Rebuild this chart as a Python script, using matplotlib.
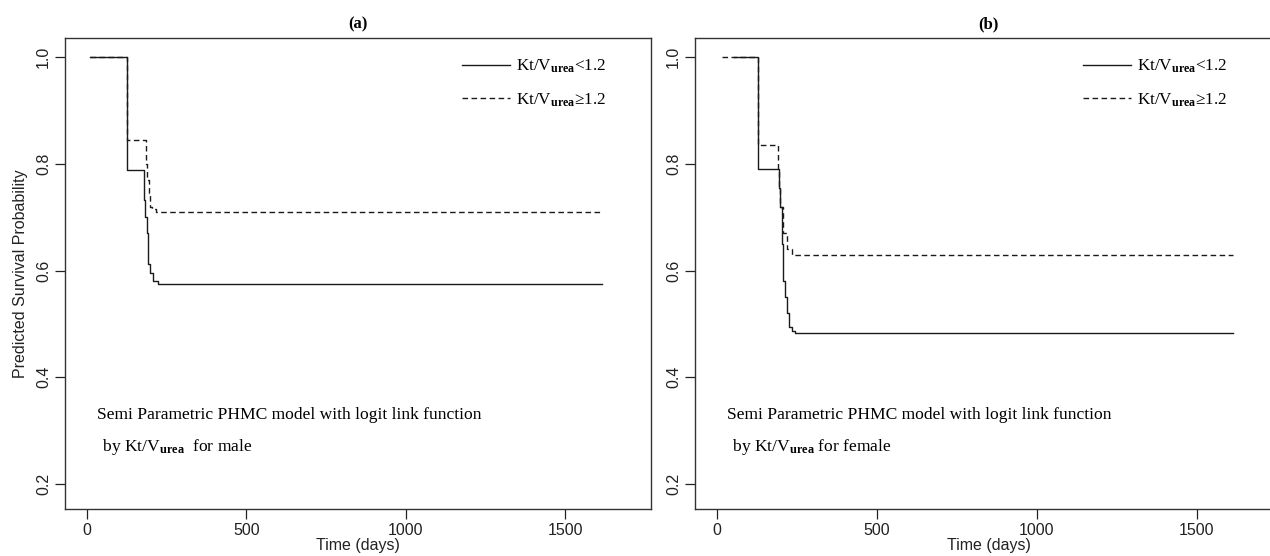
import matplotlib
matplotlib.use("Agg")
import matplotlib.pyplot as plt

# ---- data (time in days, survival probability) ----
male_lo_t = [10, 125, 179, 181, 184, 188, 193, 198, 208, 223, 1613]
male_lo_s = [1.0, 0.788, 0.757, 0.732, 0.70, 0.67, 0.613, 0.596, 0.58, 0.575, 0.575]
male_hi_t = [10, 125, 187, 190, 194, 197, 205, 218, 1613]
male_hi_s = [1.0, 0.845, 0.80, 0.77, 0.745, 0.72, 0.715, 0.71, 0.71]

female_lo_t = [53, 128, 193, 197, 203, 208, 212, 218, 225, 234, 245, 1613]
female_lo_s = [1.0, 0.79, 0.755, 0.72, 0.65, 0.58, 0.55, 0.52, 0.495, 0.486, 0.483, 0.483]
female_hi_t = [16, 128, 191, 196, 199, 208, 218, 234, 1613]
female_hi_s = [1.0, 0.836, 0.79, 0.755, 0.72, 0.67, 0.64, 0.63, 0.63]

panel_titles = ["(a)", "(b)"]
note_lines = [
    ["Semi Parametric PHMC model with logit link function",
     r" by Kt/V$_{\mathbf{urea}}$  for male"],
    ["Semi Parametric PHMC model with logit link function",
     r" by Kt/V$_{\mathbf{urea}}$ for female"],
]
legend_labels = [r"Kt/V$_{\mathbf{urea}}$<1.2", r"Kt/V$_{\mathbf{urea}}$≥1.2"]

plt.rcParams["font.family"] = ["Liberation Sans", "DejaVu Sans"]
plt.rcParams["mathtext.fontset"] = "custom"
plt.rcParams["mathtext.rm"] = "Liberation Serif"
plt.rcParams["mathtext.bf"] = "Liberation Serif:bold"
plt.rcParams["mathtext.it"] = "Liberation Serif:italic"

fig = plt.figure(figsize=(12.7, 5.56), dpi=100)
ax1 = fig.add_axes([65 / 1270, 1 - 509 / 556, 586 / 1270, 471 / 556])
ax2 = fig.add_axes([695 / 1270, 1 - 509 / 556, 587.5 / 1270, 471 / 556])

serif = ["Liberation Serif", "DejaVu Serif"]
data = [(male_lo_t, male_lo_s, male_hi_t, male_hi_s),
        (female_lo_t, female_lo_s, female_hi_t, female_hi_s)]
leg_x = [0.677, 0.660]

for i, ax in enumerate([ax1, ax2]):
    lo_t, lo_s, hi_t, hi_s = data[i]
    ax.step(lo_t, lo_s, where="post", color="#1a1a1a", lw=1.0,
            label=legend_labels[0])
    ax.step(hi_t, hi_s, where="post", color="#1a1a1a", lw=1.0,
            linestyle=(0, (4, 2.5)), label=legend_labels[1])

    ax.set_xlim(-68, 1768)
    ax.set_ylim(0.153, 1.036)
    ax.set_xticks([0, 500, 1000, 1500])
    ax.set_yticks([0.2, 0.4, 0.6, 0.8, 1.0])
    ax.set_yticklabels(["0.2", "0.4", "0.6", "0.8", "1.0"], rotation=90,
                       va="center")
    ax.tick_params(direction="out", length=7, width=0.9, labelsize=11.5,
                   pad=3, colors="#222222")
    for sp in ax.spines.values():
        sp.set_linewidth(1.0)
        sp.set_color("#333333")

    ax.set_xlabel("Time (days)", fontsize=11.5, labelpad=0, color="#222222")
    ax.set_title(panel_titles[i], family=serif, fontweight="bold",
                 fontsize=12, pad=7)

    ax.text(0.055, 0.199, note_lines[i][0],
            transform=ax.transAxes, family=serif, fontsize=12.6,
            va="center", ha="left")
    ax.text(0.057, 0.131, note_lines[i][1],
            transform=ax.transAxes, family=serif, fontsize=12.6,
            va="center", ha="left")

    leg = ax.legend(loc="upper left", bbox_to_anchor=(leg_x[i], 0.958),
                    frameon=False, borderaxespad=0, borderpad=0,
                    handlelength=2.8, handletextpad=0.4, labelspacing=0.95,
                    prop={"family": serif, "size": 12.3})

ax1.set_ylabel("Predicted Survival Probability", fontsize=11.5, labelpad=6,
               color="#222222")

fig.savefig("out.png", dpi=100)
